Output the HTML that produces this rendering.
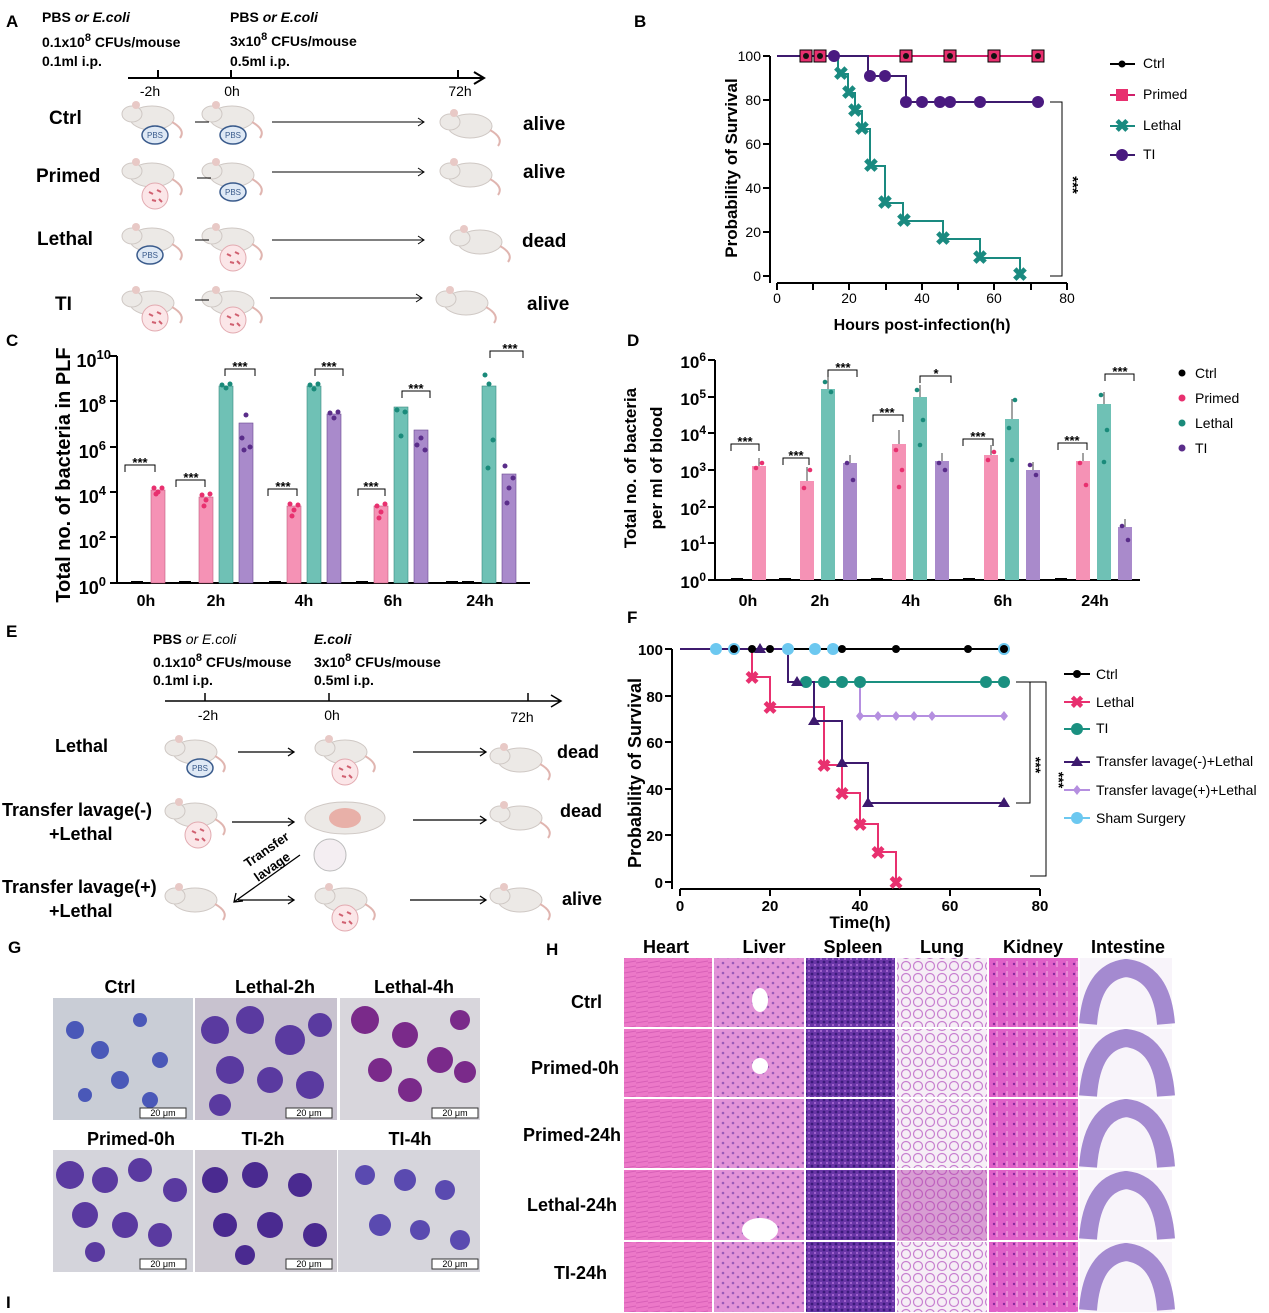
<!DOCTYPE html>
<html><head><meta charset="utf-8"><style>
body{margin:0;background:#fff}
svg{display:block;font-family:"Liberation Sans",Arial,sans-serif}
.b{font-weight:bold}
</style></head><body>
<svg width="1269" height="1313" viewBox="0 0 1269 1313" xmlns="http://www.w3.org/2000/svg">
<defs>
<g id="mouse"><ellipse cx="0" cy="0" rx="22" ry="12" fill="#ece9e6" stroke="#cfc8c4"/><ellipse cx="-20" cy="-4" rx="10" ry="8" fill="#ece9e6" stroke="#cfc8c4"/><circle cx="-16" cy="-13" r="4" fill="#e8c9c6"/><path d="M20 4 q14 8 8 16" stroke="#e0b5b0" fill="none" stroke-width="2"/></g>
<g id="pbs"><ellipse cx="0" cy="0" rx="13" ry="9" fill="#dfe9f5" stroke="#3a5b8c" stroke-width="1.5"/><text x="0" y="3" font-size="8" text-anchor="middle" fill="#3a5b8c">PBS</text></g>
<g id="eco"><circle cx="0" cy="0" r="13" fill="#fbe6e8" stroke="#e2aab0"/><path d="M-6 -4 l4 2 M2 -6 l4 2 M-3 4 l4 1 M4 3 l3 3" stroke="#d06070" stroke-width="2"/></g>
<pattern id="hp" width="12" height="10" patternUnits="userSpaceOnUse"><rect width="12" height="10" fill="#ec78c8"/><path d="M0 3 l12 -2 M0 8 l12 -2" stroke="#d860b8" stroke-width="1"/></pattern>
<pattern id="lp" width="10" height="10" patternUnits="userSpaceOnUse"><rect width="10" height="10" fill="#e394d8"/><circle cx="3" cy="3" r="1.3" fill="#9a5ab8"/><circle cx="8" cy="7" r="1.3" fill="#9a5ab8"/></pattern>
<pattern id="sp" width="6" height="6" patternUnits="userSpaceOnUse"><rect width="6" height="6" fill="#6a36a8"/><circle cx="2" cy="2" r="1.4" fill="#3a1a7a"/><circle cx="5" cy="5" r="1" fill="#b070d8"/></pattern>
<pattern id="lu" width="12" height="12" patternUnits="userSpaceOnUse"><rect width="12" height="12" fill="#f6eef6"/><circle cx="6" cy="6" r="4.5" fill="none" stroke="#c880d0" stroke-width="1.2"/></pattern>
<pattern id="kp" width="10" height="10" patternUnits="userSpaceOnUse"><rect width="10" height="10" fill="#e060c8"/><circle cx="4" cy="4" r="1.2" fill="#8a2a9e"/><path d="M7 1v6" stroke="#f4b0e4"/></pattern>
</defs>
<rect width="1269" height="1313" fill="#fff"/>

<!-- PANEL A -->
<g font-size="14">
<text x="6" y="27" class="b" font-size="17">A</text>
<text x="42" y="22" class="b">PBS <tspan font-style="italic">or E.coli</tspan></text>
<text x="42" y="47" class="b">0.1x10<tspan dy="-6" font-size="11">8</tspan><tspan dy="6"> CFUs/mouse</tspan></text>
<text x="42" y="66" class="b">0.1ml i.p.</text>
<text x="230" y="22" class="b">PBS <tspan font-style="italic">or E.coli</tspan></text>
<text x="230" y="46" class="b">3x10<tspan dy="-6" font-size="11">8</tspan><tspan dy="6">  CFUs/mouse</tspan></text>
<text x="230" y="66" font-weight="bold">0.5ml i.p.</text>
</g>
<path d="M128 78 H483 M474 72 L484 78 L474 84 M158 70V78 M231 70V78 M458 70V78" stroke="#000" stroke-width="2" fill="none"/>
<g font-size="14" text-anchor="middle"><text x="150" y="96">-2h</text><text x="232" y="96">0h</text><text x="460" y="96">72h</text></g>
<g font-size="19" class="b"><text x="49" y="124">Ctrl</text><text x="36" y="182">Primed</text><text x="37" y="245">Lethal</text><text x="55" y="310">TI</text>
<text x="523" y="130">alive</text><text x="523" y="178">alive</text><text x="522" y="247">dead</text><text x="527" y="310">alive</text></g>
<g>
<use href="#mouse" x="152" y="118"/><use href="#pbs" x="155" y="135"/><use href="#mouse" x="232" y="118"/><use href="#pbs" x="233" y="135"/><use href="#mouse" x="470" y="126"/>
<use href="#mouse" x="152" y="175"/><use href="#eco" x="155" y="196"/><use href="#mouse" x="232" y="175"/><use href="#pbs" x="233" y="192"/><use href="#mouse" x="470" y="175"/>
<use href="#mouse" x="152" y="240"/><use href="#pbs" x="150" y="255"/><use href="#mouse" x="232" y="240"/><use href="#eco" x="233" y="258"/><use href="#mouse" x="480" y="242"/>
<use href="#mouse" x="152" y="303"/><use href="#eco" x="155" y="318"/><use href="#mouse" x="232" y="303"/><use href="#eco" x="233" y="320"/><use href="#mouse" x="466" y="303"/>
</g>
<g stroke="#000" fill="none"><path d="M195 122h14 M272 122h152 M418 118l6 4-6 4 M197 178h14 M272 172h152 M418 168l6 4-6 4 M195 240h14 M272 240h152 M418 236l6 4-6 4 M195 300h14 M270 298h152 M416 294l6 4-6 4"/></g>

<!-- PANEL B -->
<text x="634" y="27" class="b" font-size="17">B</text>
<path d="M770 56V283 M777 283H1067" stroke="#000" stroke-width="2"/>
<g stroke="#000" stroke-width="2"><path d="M763 56h7M763 100h7M763 144h7M763 188h7M763 232h7M763 276h7M777 283v7M813 283v7M849 283v7M886 283v7M922 283v7M958 283v7M994 283v7M1031 283v7M1067 283v7"/></g>
<g font-size="14" text-anchor="end"><text x="761" y="61">100</text><text x="761" y="105">80</text><text x="761" y="149">60</text><text x="761" y="193">40</text><text x="761" y="237">20</text><text x="761" y="281">0</text></g>
<g font-size="14" text-anchor="middle"><text x="777" y="303">0</text><text x="849" y="303">20</text><text x="922" y="303">40</text><text x="994" y="303">60</text><text x="1067" y="303">80</text></g>
<text x="922" y="330" font-size="16" class="b" text-anchor="middle">Hours post-infection(h)</text>
<text transform="translate(737 168) rotate(-90)" font-size="17" class="b" text-anchor="middle">Probability of Survival</text>
<path d="M777 56H1038" stroke="#d0206a" stroke-width="2"/>
<path d="M777 56H838V74H848V93H855V111H862V129H870V166H885V203H903V221H943V239H980V258H1020V276" stroke="#1a8a80" stroke-width="2" fill="none"/>
<path d="M777 56H868V76H906V102H1038" stroke="#3d1a6e" stroke-width="2" fill="none"/>
<g fill="#e8306f" stroke="#000"><rect x="800" y="50" width="12" height="12"/><rect x="814" y="50" width="12" height="12"/><rect x="900" y="50" width="12" height="12"/><rect x="944" y="50" width="12" height="12"/><rect x="988" y="50" width="12" height="12"/><rect x="1032" y="50" width="12" height="12"/></g>
<g fill="#111"><circle cx="806" cy="56" r="3"/><circle cx="820" cy="56" r="3"/><circle cx="906" cy="56" r="3"/><circle cx="950" cy="56" r="3"/><circle cx="994" cy="56" r="3"/><circle cx="1038" cy="56" r="3"/></g>
<g fill="#4a1a80"><circle cx="834" cy="56" r="6"/><circle cx="870" cy="76" r="6"/><circle cx="885" cy="76" r="6"/><circle cx="906" cy="102" r="6"/><circle cx="922" cy="102" r="6"/><circle cx="940" cy="102" r="6"/><circle cx="950" cy="102" r="6"/><circle cx="980" cy="102" r="6"/><circle cx="1038" cy="102" r="6"/></g>
<g font-size="19" class="b" fill="#1a8a80" text-anchor="middle"><text x="841" y="80">✖</text><text x="849" y="99">✖</text><text x="855" y="117">✖</text><text x="862" y="135">✖</text><text x="871" y="172">✖</text><text x="885" y="209">✖</text><text x="904" y="227">✖</text><text x="943" y="245">✖</text><text x="980" y="264">✖</text><text x="1020" y="281">✖</text></g>
<path d="M1050 102H1062V276H1050" stroke="#000" fill="none"/>
<text transform="translate(1068 185) rotate(90)" font-size="15" class="b" text-anchor="middle">***</text>
<g font-size="14">
<path d="M1110 64h25" stroke="#000" stroke-width="2"/><circle cx="1122" cy="64" r="3.5"/><text x="1143" y="68">Ctrl</text>
<path d="M1110 95h25" stroke="#d0206a" stroke-width="2"/><rect x="1116" y="89" width="12" height="12" fill="#e8306f"/><text x="1143" y="99">Primed</text>
<path d="M1110 126h25" stroke="#1a8a80" stroke-width="2"/><text x="1122" y="132" fill="#1a8a80" font-size="18" text-anchor="middle" class="b">✖</text><text x="1143" y="130">Lethal</text>
<path d="M1110 155h25" stroke="#3d1a6e" stroke-width="2"/><circle cx="1122" cy="155" r="6" fill="#4a1a80"/><text x="1143" y="159">TI</text>
</g>

<!-- PANEL C -->
<text x="6" y="346" class="b" font-size="17">C</text>
<path d="M117 356V583 M117 583H530" stroke="#000" stroke-width="2"/>
<g stroke="#000" stroke-width="2"><path d="M110 356h7M110 401h7M110 447h7M110 492h7M110 537h7M110 583h7"/></g>
<g font-size="18" class="b" text-anchor="end"><text x="111" y="367">10<tspan dy="-8" font-size="13">10</tspan></text><text x="106" y="412">10<tspan dy="-8" font-size="13">8</tspan></text><text x="106" y="458">10<tspan dy="-8" font-size="13">6</tspan></text><text x="106" y="503">10<tspan dy="-8" font-size="13">4</tspan></text><text x="106" y="548">10<tspan dy="-8" font-size="13">2</tspan></text><text x="106" y="594">10<tspan dy="-8" font-size="13">0</tspan></text></g>
<text transform="translate(70 475) rotate(-90)" font-size="20" class="b" text-anchor="middle">Total no. of bacteria in PLF</text>
<g font-size="16" class="b" text-anchor="middle"><text x="146" y="606">0h</text><text x="216" y="606">2h</text><text x="304" y="606">4h</text><text x="393" y="606">6h</text><text x="480" y="606">24h</text></g>
<g fill="#f592b5" stroke="#c06080" stroke-width="0.6"><rect x="151" y="490" width="14" height="93"/><rect x="199" y="497" width="14" height="86"/><rect x="287" y="506" width="14" height="77"/><rect x="374" y="506" width="14" height="77"/></g>
<g fill="#6fc1b5" stroke="#3a8a80" stroke-width="0.6"><rect x="219" y="386" width="14" height="197"/><rect x="307" y="386" width="14" height="197"/><rect x="394" y="407" width="14" height="176"/><rect x="482" y="386" width="14" height="197"/></g>
<g fill="#a98acb" stroke="#6a4a90" stroke-width="0.6"><rect x="239" y="423" width="14" height="160"/><rect x="327" y="414" width="14" height="169"/><rect x="414" y="430" width="14" height="153"/><rect x="502" y="474" width="14" height="109"/></g>
<g stroke="#000" stroke-width="2"><path d="M131 582h12M179 582h12M269 582h12M356 582h12M446 582h12M462 582h12"/></g>
<g fill="#e8306f"><circle cx="154" cy="488" r="2.5"/><circle cx="158" cy="492" r="2.5"/><circle cx="162" cy="488" r="2.5"/><circle cx="156" cy="494" r="2.5"/><circle cx="202" cy="495" r="2.5"/><circle cx="206" cy="500" r="2.5"/><circle cx="210" cy="494" r="2.5"/><circle cx="204" cy="506" r="2.5"/><circle cx="290" cy="504" r="2.5"/><circle cx="294" cy="510" r="2.5"/><circle cx="298" cy="505" r="2.5"/><circle cx="292" cy="516" r="2.5"/><circle cx="377" cy="506" r="2.5"/><circle cx="381" cy="512" r="2.5"/><circle cx="385" cy="504" r="2.5"/><circle cx="379" cy="518" r="2.5"/></g>
<g fill="#1a8a7a"><circle cx="222" cy="385" r="2.5"/><circle cx="226" cy="388" r="2.5"/><circle cx="230" cy="384" r="2.5"/><circle cx="310" cy="385" r="2.5"/><circle cx="314" cy="389" r="2.5"/><circle cx="318" cy="384" r="2.5"/><circle cx="397" cy="410" r="2.5"/><circle cx="401" cy="436" r="2.5"/><circle cx="405" cy="412" r="2.5"/><circle cx="485" cy="375" r="2.5"/><circle cx="489" cy="384" r="2.5"/><circle cx="493" cy="440" r="2.5"/><circle cx="488" cy="468" r="2.5"/></g>
<g fill="#5a2d8a"><circle cx="242" cy="438" r="2.5"/><circle cx="246" cy="415" r="2.5"/><circle cx="250" cy="447" r="2.5"/><circle cx="244" cy="450" r="2.5"/><circle cx="330" cy="413" r="2.5"/><circle cx="334" cy="418" r="2.5"/><circle cx="338" cy="412" r="2.5"/><circle cx="417" cy="445" r="2.5"/><circle cx="421" cy="438" r="2.5"/><circle cx="425" cy="450" r="2.5"/><circle cx="505" cy="466" r="2.5"/><circle cx="509" cy="488" r="2.5"/><circle cx="513" cy="478" r="2.5"/><circle cx="507" cy="503" r="2.5"/></g>
<g stroke="#000" fill="none"><path d="M125 472V465H155V472 M176 487V480H205V487 M225 376V369H255V376 M268 496V489H297V496 M315 376V369H343V376 M358 496V489H385V496 M402 398V391H430V398 M490 358V351H523V358"/></g>
<g font-size="13" class="b" text-anchor="middle"><text x="140" y="467">***</text><text x="191" y="482">***</text><text x="240" y="371">***</text><text x="283" y="491">***</text><text x="329" y="371">***</text><text x="371" y="491">***</text><text x="416" y="393">***</text><text x="510" y="353">***</text></g>

<!-- PANEL D -->
<text x="627" y="346" class="b" font-size="17">D</text>
<path d="M715 360V580 M715 580H1140" stroke="#000" stroke-width="2"/>
<g stroke="#000" stroke-width="2"><path d="M708 360h7M708 397h7M708 433h7M708 470h7M708 507h7M708 543h7M708 580h7"/></g>
<g font-size="17" class="b" text-anchor="end"><text x="706" y="368">10<tspan dy="-7" font-size="12">6</tspan></text><text x="706" y="405">10<tspan dy="-7" font-size="12">5</tspan></text><text x="706" y="441">10<tspan dy="-7" font-size="12">4</tspan></text><text x="706" y="478">10<tspan dy="-7" font-size="12">3</tspan></text><text x="706" y="515">10<tspan dy="-7" font-size="12">2</tspan></text><text x="706" y="551">10<tspan dy="-7" font-size="12">1</tspan></text><text x="706" y="588">10<tspan dy="-7" font-size="12">0</tspan></text></g>
<text transform="translate(636 468) rotate(-90)" font-size="17" class="b" text-anchor="middle">Total no. of bacteria</text>
<text transform="translate(662 468) rotate(-90)" font-size="17" class="b" text-anchor="middle">per ml of blood</text>
<g font-size="16" class="b" text-anchor="middle"><text x="748" y="606">0h</text><text x="820" y="606">2h</text><text x="911" y="606">4h</text><text x="1003" y="606">6h</text><text x="1095" y="606">24h</text></g>
<g fill="#f592b5"><rect x="752" y="466" width="14" height="114"/><rect x="800" y="481" width="14" height="99"/><rect x="892" y="444" width="14" height="136"/><rect x="984" y="455" width="14" height="125"/><rect x="1076" y="461" width="14" height="119"/></g>
<g fill="#6fc1b5"><rect x="821" y="389" width="14" height="191"/><rect x="913" y="397" width="14" height="183"/><rect x="1005" y="419" width="14" height="161"/><rect x="1097" y="404" width="14" height="176"/></g>
<g fill="#a98acb"><rect x="843" y="463" width="14" height="117"/><rect x="935" y="461" width="14" height="119"/><rect x="1026" y="470" width="14" height="110"/><rect x="1118" y="527" width="14" height="53"/></g>
<g stroke="#000" stroke-width="2"><path d="M731 579h12M779 579h12M871 579h12M963 579h12M1055 579h12"/></g>
<g stroke="#444" fill="none"><path d="M759 466v-8M807 481v-14M828 389v-12M850 463v-8M899 444v-14M920 397v-12M942 461v-8M991 455v-10M1012 419v-20M1033 470v-8M1083 461v-8M1104 404v-12M1125 527v-8"/></g>
<g fill="#e8306f"><circle cx="756" cy="468" r="2.3"/><circle cx="762" cy="463" r="2.3"/><circle cx="804" cy="488" r="2.3"/><circle cx="810" cy="470" r="2.3"/><circle cx="896" cy="450" r="2.3"/><circle cx="902" cy="470" r="2.3"/><circle cx="899" cy="487" r="2.3"/><circle cx="988" cy="460" r="2.3"/><circle cx="994" cy="452" r="2.3"/><circle cx="1080" cy="463" r="2.3"/><circle cx="1086" cy="485" r="2.3"/></g>
<g fill="#1a8a7a"><circle cx="825" cy="382" r="2.3"/><circle cx="831" cy="392" r="2.3"/><circle cx="917" cy="390" r="2.3"/><circle cx="923" cy="420" r="2.3"/><circle cx="920" cy="445" r="2.3"/><circle cx="1009" cy="428" r="2.3"/><circle cx="1015" cy="400" r="2.3"/><circle cx="1012" cy="460" r="2.3"/><circle cx="1101" cy="395" r="2.3"/><circle cx="1107" cy="430" r="2.3"/><circle cx="1104" cy="462" r="2.3"/></g>
<g fill="#5a2d8a"><circle cx="847" cy="463" r="2.3"/><circle cx="853" cy="480" r="2.3"/><circle cx="939" cy="463" r="2.3"/><circle cx="945" cy="470" r="2.3"/><circle cx="1030" cy="465" r="2.3"/><circle cx="1036" cy="475" r="2.3"/><circle cx="1122" cy="526" r="2.3"/><circle cx="1128" cy="540" r="2.3"/></g>
<g stroke="#000" fill="none"><path d="M731 451V444H759V451 M783 465V458H809V465 M828 377V370H857V377 M873 422V415H903V422 M920 383V376H951V383 M963 446V439H993V446 M1058 450V443H1087V450 M1105 381V374H1134V381"/></g>
<g font-size="13" class="b" text-anchor="middle"><text x="745" y="446">***</text><text x="796" y="460">***</text><text x="843" y="372">***</text><text x="887" y="417">***</text><text x="936" y="378">*</text><text x="978" y="441">***</text><text x="1072" y="445">***</text><text x="1120" y="376">***</text></g>
<g font-size="14"><circle cx="1182" cy="373" r="3.5"/><text x="1195" y="378">Ctrl</text><circle cx="1182" cy="398" r="3.5" fill="#e8306f"/><text x="1195" y="403">Primed</text><circle cx="1182" cy="423" r="3.5" fill="#1a8a7a"/><text x="1195" y="428">Lethal</text><circle cx="1182" cy="448" r="3.5" fill="#5a2d8a"/><text x="1195" y="453">TI</text></g>

<!-- PANEL E -->
<text x="6" y="637" class="b" font-size="17">E</text>
<g font-size="14" class="b">
<text x="153" y="644">PBS <tspan font-style="italic" font-weight="normal">or E.coli</tspan></text>
<text x="153" y="667">0.1x10<tspan dy="-6" font-size="11">8</tspan><tspan dy="6"> CFUs/mouse</tspan></text>
<text x="153" y="685">0.1ml i.p.</text>
<text x="314" y="644" font-style="italic">E.coli</text>
<text x="314" y="667">3x10<tspan dy="-6" font-size="11">8</tspan><tspan dy="6"> CFUs/mouse</tspan></text>
<text x="314" y="685">0.5ml i.p.</text>
</g>
<path d="M165 701H560 M551 695L561 701L551 707 M205 693V701 M329 693V701 M528 693V701" stroke="#000" stroke-width="1.5" fill="none"/>
<g font-size="14" text-anchor="middle"><text x="208" y="720">-2h</text><text x="332" y="720">0h</text><text x="522" y="722">72h</text></g>
<g font-size="18" class="b"><text x="55" y="752">Lethal</text><text x="2" y="816">Transfer lavage(-)</text><text x="49" y="840">+Lethal</text><text x="2" y="893">Transfer lavage(+)</text><text x="49" y="917">+Lethal</text>
<text x="557" y="758">dead</text><text x="560" y="817">dead</text><text x="562" y="905">alive</text></g>
<use href="#mouse" x="195" y="752"/><use href="#pbs" x="200" y="768"/><use href="#mouse" x="345" y="752"/><use href="#eco" x="345" y="772"/><use href="#mouse" x="520" y="760"/>
<use href="#mouse" x="195" y="815"/><use href="#eco" x="198" y="835"/><ellipse cx="345" cy="818" rx="40" ry="16" fill="#ece9e6" stroke="#cfc8c4"/><ellipse cx="345" cy="818" rx="16" ry="10" fill="#e8b0a8"/><circle cx="330" cy="855" r="16" fill="#f4eef2" stroke="#bbb"/><use href="#mouse" x="520" y="818"/>
<use href="#mouse" x="195" y="900"/><use href="#mouse" x="345" y="900"/><use href="#eco" x="345" y="918"/><use href="#mouse" x="520" y="900"/>
<g stroke="#000" fill="none" stroke-width="1.3"><path d="M238 752h56M288 748l6 4-6 4 M413 752h73M480 748l6 4-6 4 M232 822h62M288 818l6 4-6 4 M413 820h73M480 816l6 4-6 4 M238 900h56M288 896l6 4-6 4 M410 900h76M480 896l6 4-6 4 M300 855L234 902 M236 893l-2 9 9-1"/></g>
<text transform="translate(248 868) rotate(-35)" font-size="13" class="b">Transfer</text>
<text transform="translate(258 882) rotate(-35)" font-size="13" class="b">lavage</text>

<!-- PANEL F -->
<text x="627" y="623" class="b" font-size="17">F</text>
<path d="M672 649V889 M680 889H1040" stroke="#000" stroke-width="2"/>
<g stroke="#000" stroke-width="2"><path d="M665 649h7M665 696h7M665 742h7M665 789h7M665 835h7M665 882h7M680 889v7M770 889v7M860 889v7M950 889v7M1040 889v7"/></g>
<g font-size="15" class="b" text-anchor="end"><text x="663" y="655">100</text><text x="663" y="702">80</text><text x="663" y="748">60</text><text x="663" y="795">40</text><text x="663" y="841">20</text><text x="663" y="888">0</text></g>
<g font-size="15" class="b" text-anchor="middle"><text x="680" y="911">0</text><text x="770" y="911">20</text><text x="860" y="911">40</text><text x="950" y="911">60</text><text x="1040" y="911">80</text></g>
<text x="860" y="928" font-size="17" class="b" text-anchor="middle">Time(h)</text>
<text transform="translate(641 773) rotate(-90)" font-size="18" class="b" text-anchor="middle">Probability of Survival</text>
<path d="M680 649H1004" stroke="#000" stroke-width="2"/>
<path d="M680 649H752V677H770V707H824V765H842V793H860V824H878V852H896V882" stroke="#e8306f" stroke-width="2" fill="none"/>
<path d="M680 649H788V682H1004" stroke="#1a9080" stroke-width="2" fill="none"/>
<path d="M680 649H788V682H814V721H842V763H868V803H1004" stroke="#3d1a6e" stroke-width="2" fill="none"/>
<path d="M860 682V716H1004" stroke="#b58fe0" stroke-width="2" fill="none"/>
<g fill="#6cc8f0"><circle cx="716" cy="649" r="6"/><circle cx="734" cy="649" r="6"/><circle cx="788" cy="649" r="6"/><circle cx="815" cy="649" r="6"/><circle cx="833" cy="649" r="6"/><circle cx="1004" cy="649" r="6"/></g>
<g fill="#000"><circle cx="734" cy="649" r="4"/><circle cx="752" cy="649" r="4"/><circle cx="770" cy="649" r="4"/><circle cx="842" cy="649" r="4"/><circle cx="896" cy="649" r="4"/><circle cx="968" cy="649" r="4"/><circle cx="1004" cy="649" r="4"/></g>
<g fill="#1a9080"><circle cx="806" cy="682" r="6"/><circle cx="824" cy="682" r="6"/><circle cx="842" cy="682" r="6"/><circle cx="860" cy="682" r="6"/><circle cx="986" cy="682" r="6"/><circle cx="1004" cy="682" r="6"/></g>
<g fill="#3d1a6e"><path d="M760 643l6 10h-12z M797 676l6 10h-12z M814 715l6 10h-12z M842 757l6 10h-12z M868 797l6 10h-12z M1004 797l6 10h-12z"/></g>
<g fill="#b58fe0"><path d="M860 711l4 5-4 5-4-5z M878 711l4 5-4 5-4-5z M896 711l4 5-4 5-4-5z M914 711l4 5-4 5-4-5z M932 711l4 5-4 5-4-5z M1004 711l4 5-4 5-4-5z"/></g>
<g font-size="18" class="b" fill="#e8306f" text-anchor="middle"><text x="752" y="684">✖</text><text x="770" y="714">✖</text><text x="824" y="772">✖</text><text x="842" y="800">✖</text><text x="860" y="831">✖</text><text x="878" y="859">✖</text><text x="896" y="889">✖</text></g>
<path d="M1016 682H1030V803H1016 M1030 682H1046V876H1030" stroke="#000" fill="none"/>
<text transform="translate(1031 765) rotate(90)" font-size="14" class="b" text-anchor="middle">***</text>
<text transform="translate(1054 780) rotate(90)" font-size="14" class="b" text-anchor="middle">***</text>
<g font-size="14">
<path d="M1064 674h26" stroke="#000" stroke-width="2"/><circle cx="1077" cy="674" r="4"/><text x="1096" y="679">Ctrl</text>
<path d="M1064 702h26" stroke="#e8306f" stroke-width="2"/><text x="1077" y="708" fill="#e8306f" font-size="17" class="b" text-anchor="middle">✖</text><text x="1096" y="707">Lethal</text>
<path d="M1064 729h26" stroke="#1a9080" stroke-width="2"/><circle cx="1077" cy="729" r="6" fill="#1a9080"/><text x="1096" y="733">TI</text>
<path d="M1064 762h26" stroke="#3d1a6e" stroke-width="2"/><path d="M1077 756l6 10h-12z" fill="#3d1a6e"/><text x="1096" y="766">Transfer lavage(-)+Lethal</text>
<path d="M1064 790h26" stroke="#b58fe0" stroke-width="2"/><path d="M1077 785l4 5-4 5-4-5z" fill="#b58fe0"/><text x="1096" y="795">Transfer lavage(+)+Lethal</text>
<path d="M1064 818h26" stroke="#6cc8f0" stroke-width="2"/><circle cx="1077" cy="818" r="6" fill="#6cc8f0"/><text x="1096" y="823">Sham Surgery</text>
</g>

<!-- PANEL G -->
<text x="8" y="953" class="b" font-size="17">G</text>
<g font-size="18" class="b" text-anchor="middle"><text x="120" y="993">Ctrl</text><text x="275" y="993">Lethal-2h</text><text x="414" y="993">Lethal-4h</text><text x="131" y="1145">Primed-0h</text><text x="263" y="1145">TI-2h</text><text x="410" y="1145">TI-4h</text></g>
<g>
<rect x="53" y="998" width="140" height="122" fill="#c9cdd6"/><rect x="195" y="998" width="142" height="122" fill="#c8c2cf"/><rect x="340" y="998" width="140" height="122" fill="#d8d6dc"/>
<rect x="53" y="1150" width="140" height="122" fill="#d4d4db"/><rect x="195" y="1150" width="142" height="122" fill="#cfcbd3"/><rect x="338" y="1150" width="142" height="122" fill="#d6d5dc"/>
<g fill="#4a58b8"><circle cx="75" cy="1030" r="9"/><circle cx="100" cy="1050" r="9"/><circle cx="140" cy="1020" r="7"/><circle cx="120" cy="1080" r="9"/><circle cx="160" cy="1060" r="8"/><circle cx="85" cy="1095" r="7"/><circle cx="150" cy="1100" r="8"/></g>
<g fill="#5a3aa0"><circle cx="215" cy="1030" r="14"/><circle cx="250" cy="1020" r="14"/><circle cx="290" cy="1040" r="15"/><circle cx="320" cy="1025" r="12"/><circle cx="230" cy="1070" r="14"/><circle cx="270" cy="1080" r="13"/><circle cx="310" cy="1085" r="14"/><circle cx="220" cy="1105" r="11"/></g>
<g fill="#7a2a8a"><circle cx="365" cy="1020" r="14"/><circle cx="405" cy="1035" r="13"/><circle cx="460" cy="1020" r="10"/><circle cx="440" cy="1060" r="13"/><circle cx="380" cy="1070" r="12"/><circle cx="465" cy="1072" r="11"/><circle cx="410" cy="1090" r="12"/></g>
<g fill="#5a3aa0"><circle cx="70" cy="1175" r="14"/><circle cx="105" cy="1180" r="13"/><circle cx="140" cy="1170" r="12"/><circle cx="175" cy="1190" r="12"/><circle cx="85" cy="1215" r="13"/><circle cx="125" cy="1225" r="13"/><circle cx="160" cy="1235" r="12"/><circle cx="95" cy="1252" r="10"/></g>
<g fill="#4a2a90"><circle cx="215" cy="1180" r="13"/><circle cx="255" cy="1175" r="13"/><circle cx="300" cy="1185" r="12"/><circle cx="225" cy="1225" r="12"/><circle cx="270" cy="1225" r="13"/><circle cx="315" cy="1235" r="12"/><circle cx="245" cy="1255" r="10"/></g>
<g fill="#5a4ab0"><circle cx="365" cy="1175" r="10"/><circle cx="405" cy="1180" r="11"/><circle cx="445" cy="1190" r="10"/><circle cx="380" cy="1225" r="11"/><circle cx="420" cy="1230" r="10"/><circle cx="460" cy="1240" r="10"/></g>
<g fill="#fff" stroke="#333"><rect x="140" y="1108" width="46" height="10"/><rect x="286" y="1108" width="46" height="10"/><rect x="432" y="1108" width="46" height="10"/><rect x="140" y="1259" width="46" height="10"/><rect x="286" y="1259" width="46" height="10"/><rect x="432" y="1259" width="46" height="10"/></g>
<g font-size="9" text-anchor="middle"><text x="163" y="1116">20 μm</text><text x="309" y="1116">20 μm</text><text x="455" y="1116">20 μm</text><text x="163" y="1267">20 μm</text><text x="309" y="1267">20 μm</text><text x="455" y="1267">20 μm</text></g>
</g>

<!-- PANEL H -->
<text x="546" y="955" class="b" font-size="17">H</text>
<g font-size="18" class="b" text-anchor="middle"><text x="666" y="953">Heart</text><text x="764" y="953">Liver</text><text x="853" y="953">Spleen</text><text x="942" y="953">Lung</text><text x="1033" y="953">Kidney</text><text x="1128" y="953">Intestine</text></g>
<g font-size="18" class="b" text-anchor="end"><text x="602" y="1008">Ctrl</text><text x="619" y="1074">Primed-0h</text><text x="621" y="1141">Primed-24h</text><text x="617" y="1211">Lethal-24h</text><text x="607" y="1279">TI-24h</text></g>
<g>
<rect x="624" y="958" width="88" height="354" fill="url(#hp)"/>
<rect x="714" y="958" width="90" height="354" fill="url(#lp)"/>
<rect x="806" y="958" width="89" height="354" fill="url(#sp)"/>
<rect x="897" y="958" width="90" height="354" fill="url(#lu)"/>
<rect x="989" y="958" width="89" height="354" fill="url(#kp)"/>
<rect x="1080" y="958" width="92" height="354" fill="#f8f4fa"/>
<g fill="none" stroke="#a48ad0" stroke-width="18">
<path d="M1088 1024 Q1092 972 1126 968 Q1162 972 1166 1024"/>
<path d="M1088 1096 Q1092 1042 1126 1038 Q1162 1042 1166 1096"/>
<path d="M1088 1167 Q1092 1112 1126 1108 Q1162 1112 1166 1167"/>
<path d="M1088 1239 Q1092 1184 1126 1180 Q1162 1184 1166 1239"/>
<path d="M1088 1310 Q1092 1256 1126 1252 Q1162 1256 1166 1310"/>
</g>
<g stroke="#fff" stroke-width="2"><path d="M624 1028H1172M624 1098H1172M624 1169H1172M624 1241H1172"/></g>
<rect x="897" y="1170" width="90" height="71" fill="#b43aa8" opacity="0.45"/>
<ellipse cx="760" cy="1230" rx="18" ry="12" fill="#fff"/>
<ellipse cx="760" cy="1000" rx="8" ry="12" fill="#fff"/>
<ellipse cx="760" cy="1066" rx="8" ry="8" fill="#fff"/>
</g>
<text x="6" y="1308" class="b" font-size="17">I</text>
</svg>
</body></html>
